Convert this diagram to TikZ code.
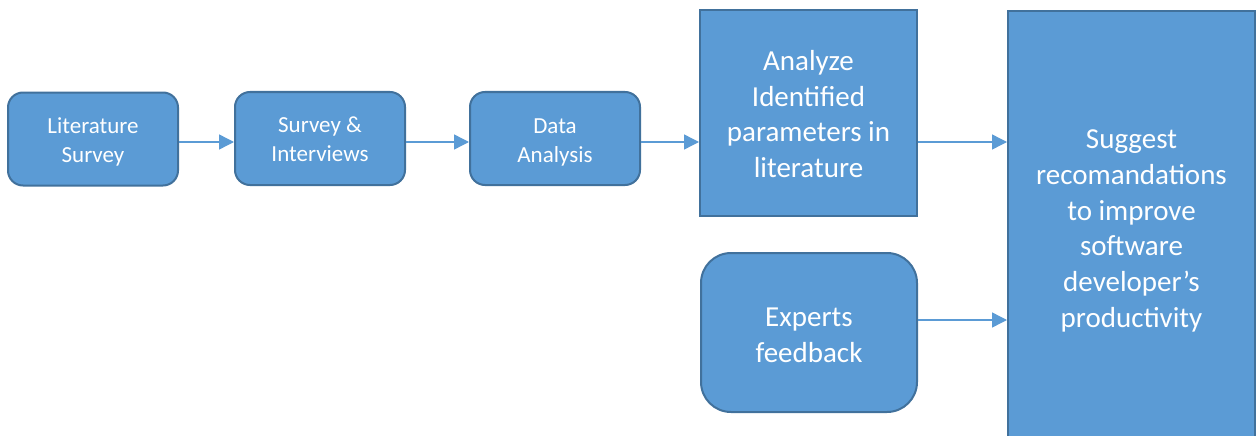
\documentclass[tikz,border=0pt]{standalone}
\usepackage{fontspec}
\setmainfont{Carlito}
\usetikzlibrary{arrows.meta}
\definecolor{boxfill}{HTML}{5B9BD5}
\definecolor{boxline}{HTML}{41719C}
\tikzset{
  base/.style={draw=boxline, fill=boxfill, line width=2pt, inner sep=0pt},
  small/.style={base, rounded corners=15pt, minimum width=170pt, minimum height=93pt},
  big/.style={base},
  stxt/.style={text=white, align=center, inner sep=0pt, font=\fontsize{23}{29}\selectfont},
  btxt/.style={text=white, align=center, inner sep=0pt, font=\fontsize{29}{35.7}\selectfont},
  conn/.style={draw=boxfill, line width=1.4pt, -{Triangle[length=15pt,width=15pt]}}
}
\begin{document}
\begin{tikzpicture}[x=1pt,y=-1pt]
\clip (0,0) rectangle (1256,436);
\fill[white] (0,0) rectangle (1256,436);
\node[small] (lit) at (93,139) {};
\node[small] (sur) at (320,138.5) {};
\node[small] (dat) at (555,138.5) {};
\node[big, minimum width=217pt, minimum height=206pt] (ana) at (808.5,113) {};
\node[big, rounded corners=30pt, minimum width=216pt, minimum height=159pt] (exp) at (809,332.5) {};
\node[big, minimum width=247pt, minimum height=434pt] (sug) at (1131.5,228) {};
\node[stxt] (litT) at ([yshift=-3pt]lit.center) {Literature\\Survey};
\node[stxt] (surT) at ([yshift=-1pt]sur.center) {Survey \&\\Interviews};
\node[stxt] (datT) at ([yshift=-4pt]dat.center) {Data\\Analysis};
\node[btxt] (anaT) at ([yshift=-1pt]ana.center) {Analyze\\Identified\\parameters in\\literature};
\node[btxt] (expT) at ([yshift=-3pt]exp.center) {Experts\\feedback};
\node[btxt] (sugT) at ([yshift=-3pt]sug.center) {Suggest\\recomandations\\to improve\\software\\developer’s\\productivity};
\draw[conn] (lit.east |- 0,142) -- (sur.west |- 0,142);
\draw[conn] (sur.east |- 0,142) -- (dat.west |- 0,142);
\draw[conn] (dat.east |- 0,142) -- (ana.west |- 0,142);
\draw[conn] (ana.east |- 0,142) -- (sug.west |- 0,142);
\draw[conn] (exp.east |- 0,320) -- (sug.west |- 0,320);
\end{tikzpicture}
\end{document}
